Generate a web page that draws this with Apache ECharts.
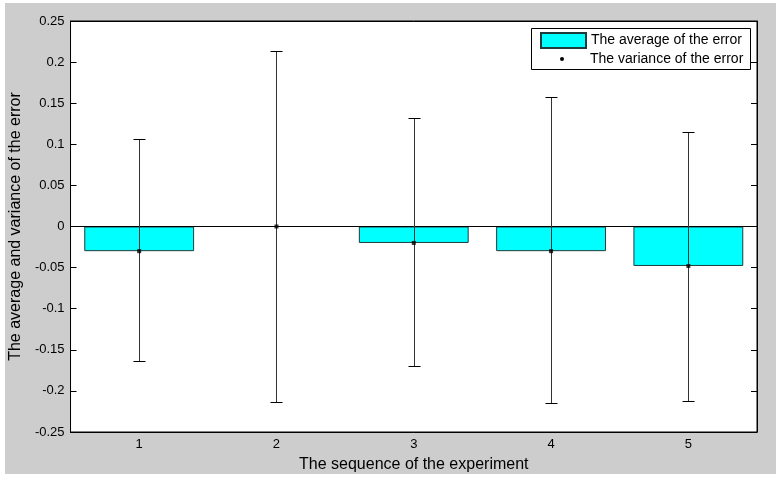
<!DOCTYPE html>
<html>
<head>
<meta charset="utf-8">
<script src="https://cdn.jsdelivr.net/npm/echarts@6/dist/echarts.min.js"></script>
<style>
html,body{margin:0;padding:0;background:#ffffff;}
#chart{width:781px;height:479px;}
</style>
</head>
<body>
<div id="chart"></div>
<script>
// ---- data ----
const categories = ['1', '2', '3', '4', '5'];
const averages   = [-0.03, 0, -0.02, -0.03, -0.048];
const errLow     = [-0.164, -0.214, -0.170, -0.215, -0.212];
const errHigh    = [0.107, 0.214, 0.132, 0.158, 0.115];

const avgName = 'The average of the error';
const varName = 'The variance of the error';
const FONT = '"Liberation Sans", Arial, Helvetica, sans-serif';

const chart = echarts.init(document.getElementById('chart'), null, {renderer: 'canvas'});

const option = {
  animation: false,
  backgroundColor: '#ffffff',
  textStyle: {fontFamily: FONT},
  graphic: [
    {type: 'rect', z: -100, silent: true,
     shape: {x: 5, y: 3, width: 771, height: 471},
     style: {fill: '#cdcdcd'}},
    {type: 'rect', z: 50, silent: true,
     shape: {x: 531.5, y: 28.5, width: 219, height: 41},
     style: {fill: '#ffffff', stroke: '#000000', lineWidth: 1}}
  ],
  grid: {
    left: 70, right: 24, top: 21, bottom: 47,
    show: true, backgroundColor: '#ffffff', borderColor: '#000000', borderWidth: 1
  },
  legend: [
    {
      z: 60,
      data: [{name: avgName, icon: 'rect'}],
      left: 540, top: 32, padding: 0,
      itemWidth: 45, itemHeight: 15, itemGap: 0,
      textStyle: {fontFamily: FONT, fontSize: 14, color: '#000'},
      selectedMode: false
    },
    {
      z: 60,
      data: [{name: varName, icon: 'circle', itemStyle: {color: '#000', borderWidth: 0}}],
      left: 560, top: 52, padding: 0,
      itemWidth: 4, itemHeight: 4, itemGap: 0,
      textStyle: {fontFamily: FONT, fontSize: 14, color: '#000', padding: [0, 0, 0, 21]},
      selectedMode: false
    }
  ],
  xAxis: [
    {
      type: 'category', data: categories, position: 'bottom',
      boundaryGap: true,
      axisLine: {onZero: false, lineStyle: {color: '#000', width: 1}},
      axisTick: {alignWithLabel: true, inside: true, length: 6, lineStyle: {color: '#000'}},
      axisLabel: {color: '#000', fontSize: 13, fontFamily: FONT, margin: 6},
      splitLine: {show: false},
      name: 'The sequence of the experiment',
      nameLocation: 'middle', nameGap: 25,
      nameTextStyle: {color: '#000', fontSize: 16, fontFamily: FONT}
    },
    {
      type: 'category', data: categories, position: 'top',
      boundaryGap: true,
      axisLine: {onZero: false, lineStyle: {color: '#000', width: 1}},
      axisTick: {alignWithLabel: true, inside: true, length: 6, lineStyle: {color: '#000'}},
      axisLabel: {show: false},
      splitLine: {show: false}
    }
  ],
  yAxis: [
    {
      type: 'value', min: -0.25, max: 0.25, interval: 0.05, position: 'left',
      axisLine: {show: true, onZero: false, lineStyle: {color: '#000', width: 1}},
      axisTick: {show: true, inside: true, length: 6, lineStyle: {color: '#000'}},
      axisLabel: {color: '#000', fontSize: 13, fontFamily: FONT, margin: 6},
      splitLine: {show: false},
      name: 'The average and variance of the error',
      nameLocation: 'middle', nameGap: 46,
      nameTextStyle: {color: '#000', fontSize: 16, fontFamily: FONT}
    },
    {
      type: 'value', min: -0.25, max: 0.25, interval: 0.05, position: 'right',
      axisLine: {show: true, onZero: false, lineStyle: {color: '#000', width: 1}},
      axisTick: {show: true, inside: true, length: 6, lineStyle: {color: '#000'}},
      axisLabel: {show: false},
      splitLine: {show: false}
    }
  ],
  series: [
    {
      name: avgName,
      type: 'bar',
      xAxisIndex: 0, yAxisIndex: 0,
      data: averages,
      barWidth: '80%',
      itemStyle: {color: '#00ffff', borderColor: '#1e3c3c', borderWidth: 1},
      markLine: {
        silent: true, symbol: 'none', label: {show: false},
        lineStyle: {color: '#000', type: 'solid', width: 1},
        data: [{yAxis: 0}],
        animation: false
      }
    },
    {
      name: varName,
      type: 'custom',
      xAxisIndex: 0, yAxisIndex: 0,
      z: 5,
      itemStyle: {color: '#000'},
      data: categories.map((c, i) => [i, errLow[i], errHigh[i]]),
      encode: {x: 0, y: [1, 2]},
      renderItem: function (params, api) {
        const x = api.value(0);
        const pHi = api.coord([x, api.value(2)]);
        const pLo = api.coord([x, api.value(1)]);
        const cx = Math.round(pHi[0]) + 0.5;
        const yh = Math.round(pHi[1]) + 0.5;
        const yl = Math.round(pLo[1]) + 0.5;
        const hw = 6;
        const st = {stroke: '#000', lineWidth: 1};
        return {
          type: 'group',
          children: [
            {type: 'line', shape: {x1: cx, y1: yh, x2: cx, y2: yl}, style: {stroke: '#333', lineWidth: 1}},
            {type: 'line', shape: {x1: cx - hw, y1: yh, x2: cx + hw, y2: yh}, style: st},
            {type: 'line', shape: {x1: cx - hw, y1: yl, x2: cx + hw, y2: yl}, style: st}
          ]
        };
      }
    },
    {
      name: varName,
      type: 'scatter',
      xAxisIndex: 0, yAxisIndex: 0,
      z: 6,
      symbol: 'rect', symbolSize: 4,
      itemStyle: {color: '#000'},
      data: averages
    }
  ]
};

chart.setOption(option);
</script>
</body>
</html>
